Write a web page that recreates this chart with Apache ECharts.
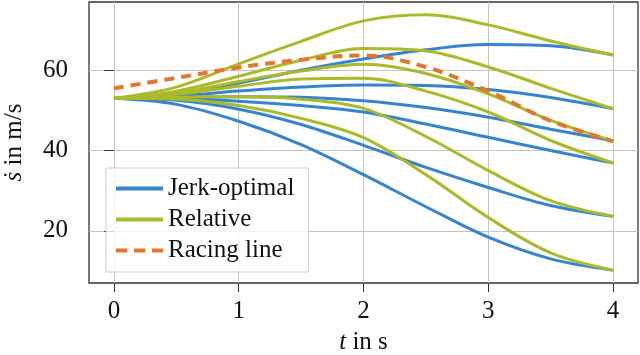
<!DOCTYPE html>
<html>
<head>
<meta charset="utf-8">
<title>Speed profiles</title>
<script src="https://cdn.jsdelivr.net/npm/echarts@6/dist/echarts.min.js"></script>
</head>
<body style="margin:0">
<div id="main" style="width:640px;height:355px;"></div>
<script>
var chart = echarts.init(document.getElementById('main'));

// time samples (s)
var times = [0, 0.5, 1, 1.5, 2, 2.5, 3, 3.5, 4];
var xTicks = [0, 1, 2, 3, 4];
var yTicks = [20, 40, 60];

// jerk-optimal profiles (m/s)
var jerk1 = [53, 54.2, 56.8, 60.0, 62.8, 65.1, 66.4, 66.1, 63.8];
var jerk2 = [53, 53.6, 54.8, 55.8, 56.3, 56.2, 55.2, 53.2, 50.4];
var jerk3 = [53, 53.2, 53.4, 53.3, 52.4, 50.7, 48.3, 45.3, 42.4];
var jerk4 = [53, 52.9, 52.3, 51.2, 49.6, 46.6, 43.3, 40.0, 36.9];
var jerk5 = [53, 52.5, 50.3, 46.5, 41.3, 35.8, 30.8, 26.3, 23.6];
var jerk6 = [53, 51.5, 47.3, 41.5, 34.0, 26.0, 18.4, 13.0, 10.2];

// relative profiles (m/s)
var rel1 = [53, 55.8, 61.6, 67.2, 72.3, 73.8, 71.3, 67.3, 63.8];
var rel2 = [53, 54.8, 58.5, 62.5, 65.4, 64.8, 60.8, 55.5, 50.4];
var rel3 = [53, 54.3, 57.2, 59.8, 61.5, 59.2, 54.1, 47.5, 42.4];
var rel4 = [53, 54.0, 56.0, 57.8, 58.0, 54.8, 49.6, 42.5, 36.9];
var rel5 = [53, 53.3, 53.4, 52.8, 50.5, 43.5, 35.0, 27.5, 23.6];
var rel6 = [53, 52.8, 51.2, 48.0, 43.2, 34.0, 23.3, 14.5, 10.2];

// racing line (m/s)
var racing = [55.5, 58.1, 60.7, 62.6, 63.7, 60.8, 54.8, 47.4, 42.3];

var blue = '#3685cc';
var green = '#aaba2a';
var orange = '#e5772c';
var font = 'Liberation Serif';

function pairs(vals) {
    return vals.map(function (v, i) { return [times[i], v]; });
}

function curve(name, d, color) {
    return {
        name: name, type: 'line', data: pairs(d),
        smooth: 0.35,
        symbol: 'none', lineStyle: { color: color, width: 3 }, itemStyle: { color: color }
    };
}

var series = [];
[jerk1, jerk2, jerk3, jerk4, jerk5, jerk6].forEach(function (d) {
    series.push(curve('Jerk-optimal', d, blue));
});
[rel1, rel2, rel3, rel4, rel5, rel6].forEach(function (d) {
    series.push(curve('Relative', d, green));
});
var race = curve('Racing line', racing, orange);
race.lineStyle = { color: orange, width: 4, type: [10, 7] };
series.push(race);

var solidIcon = 'path://M0,0h47v4h-47z';
var dashIcon = 'path://M0,0h11v4h-11zM18,0h11v4h-11zM36,0h11v4h-11z';

var option = {
    animation: false,
    backgroundColor: '#fff',
    grid: {
        left: 89, right: 2, top: 2, bottom: 72,
        outerBoundsMode: 'none', containLabel: false,
        show: true, borderColor: '#333', borderWidth: 1.3, backgroundColor: 'transparent'
    },
    legend: {
        orient: 'vertical',
        left: 106, top: 168,
        padding: [8, 14, 9, 10],
        itemWidth: 47, itemHeight: 4, itemGap: 6,
        backgroundColor: 'rgba(255,255,255,0.8)',
        borderColor: '#ccc', borderWidth: 1, borderRadius: 0,
        textStyle: { fontFamily: font, fontSize: 25, color: '#111', lineHeight: 25 },
        data: [
            { name: 'Jerk-optimal', icon: solidIcon, itemStyle: { color: blue } },
            { name: 'Relative', icon: solidIcon, itemStyle: { color: green } },
            { name: 'Racing line', icon: dashIcon, itemStyle: { color: orange } }
        ]
    },
    xAxis: {
        type: 'value', min: -0.2, max: 4.2,
        name: '{i|t} in s', nameLocation: 'middle', nameGap: 47,
        nameTextStyle: {
            fontFamily: font, fontSize: 25, color: '#111',
            rich: { i: { fontFamily: font, fontSize: 25, fontStyle: 'italic', color: '#111' } }
        },
        axisLine: { show: false },
        axisTick: { show: true, length: 9, inside: false, customValues: xTicks, lineStyle: { color: '#333', width: 1 } },
        axisLabel: { customValues: xTicks, margin: 16, fontFamily: font, fontSize: 25, color: '#111' },
        splitLine: { show: true, lineStyle: { color: '#c4c4c4', width: 1 } }
    },
    yAxis: {
        type: 'value', min: 7, max: 77,
        name: '{i|ṡ} in m/s', nameLocation: 'middle', nameGap: 62, nameRotate: 90,
        nameTextStyle: {
            fontFamily: font, fontSize: 25, color: '#111',
            rich: { i: { fontFamily: font, fontSize: 25, fontStyle: 'italic', color: '#111' } }
        },
        axisLine: { show: false },
        axisTick: { show: true, length: 10, inside: false, customValues: yTicks, lineStyle: { color: '#333', width: 1 } },
        axisLabel: { customValues: yTicks, margin: 21, fontFamily: font, fontSize: 25, color: '#111' },
        splitLine: { show: true, lineStyle: { color: '#c4c4c4', width: 1 } }
    },
    series: series
};

chart.setOption(option);
</script>
</body>
</html>
